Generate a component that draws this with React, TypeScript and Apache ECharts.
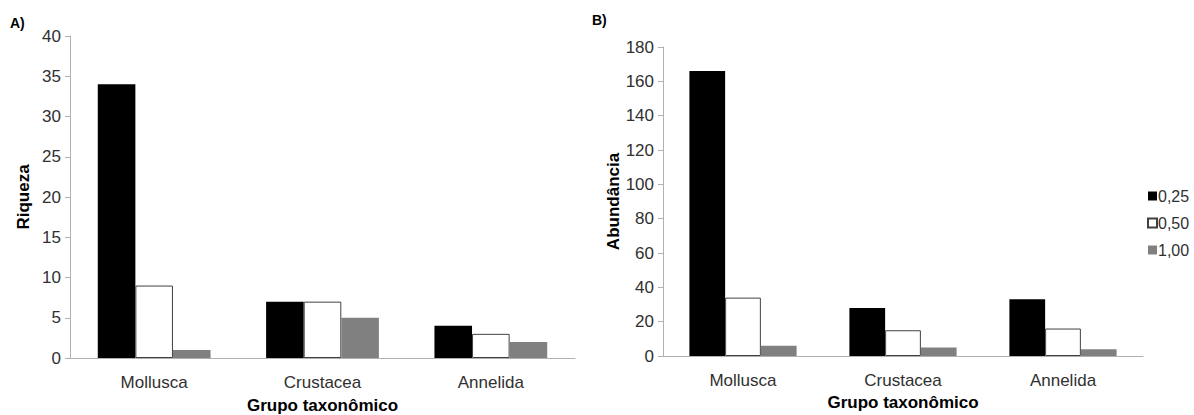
import React, { useEffect, useRef } from "react";
import * as echarts from "echarts";

const categories = ["Mollusca", "Crustacea", "Annelida"];
const seriesNames = ["0,25", "0,50", "1,00"];
const riqueza = [
  [34, 7, 4],
  [9, 7, 3],
  [1, 5, 2],
];
const abundancia = [
  [166, 28, 33],
  [34, 15, 16],
  [6, 5, 4],
];

const FONT = "'Liberation Sans', Arial, sans-serif";
const styles = [
  { color: "#000000" },
  { color: "#ffffff", borderColor: "#404040", borderWidth: 1 },
  { color: "#808080" },
];

export default function App() {
  const ref = useRef<HTMLDivElement>(null);
  useEffect(() => {
    document.body.style.margin = "0";
    const chart = echarts.init(ref.current!, null, { renderer: "svg" });
    const xAxisBase = (gridIndex: number, gap: number) => ({
      type: "category",
      gridIndex,
      data: categories,
      name: "Grupo taxonômico",
      nameLocation: "middle",
      nameGap: gap,
      nameTextStyle: { fontFamily: FONT, fontSize: 17, fontWeight: "bold", color: "#000" },
      axisLine: { lineStyle: { color: "#b0b0b0", width: 1 } },
      axisTick: { show: false },
      axisLabel: { fontFamily: FONT, fontSize: 17, color: "#303030", margin: 16 },
    });
    const yAxisBase = (gridIndex: number, max: number, interval: number, name: string, gap: number) => ({
      type: "value",
      gridIndex,
      min: 0,
      max,
      interval,
      name,
      nameLocation: "middle",
      nameGap: gap,
      nameTextStyle: { fontFamily: FONT, fontSize: 17, fontWeight: "bold", color: "#000" },
      axisLine: { show: true, lineStyle: { color: "#b0b0b0", width: 1 } },
      axisTick: { show: true, length: 5, lineStyle: { color: "#b0b0b0" } },
      splitLine: { show: false },
      axisLabel: { fontFamily: FONT, fontSize: 17, color: "#303030", margin: 9 },
    });
    const mk = (data: number[][], idx: number) =>
      data.map((vals, i) => ({
        type: "bar",
        name: seriesNames[i],
        xAxisIndex: idx,
        yAxisIndex: idx,
        data: vals,
        barGap: "0%",
        barCategoryGap: "33%",
        itemStyle: styles[i],
      }));
    chart.setOption({
      animation: false,
      textStyle: { fontFamily: FONT },
      grid: [
        { left: 70, width: 505, top: 36, bottom: 57, outerBoundsMode: "none", containLabel: false },
        { left: 663, width: 480, top: 47, bottom: 59, outerBoundsMode: "none", containLabel: false },
      ],
      xAxis: [xAxisBase(0, 39), xAxisBase(1, 35)],
      yAxis: [yAxisBase(0, 40, 5, "Riqueza", 38), yAxisBase(1, 180, 20, "Abundância", 39)],
      legend: {
        orient: "vertical",
        left: 1142,
        top: 183,
        itemWidth: 9,
        itemHeight: 9,
        itemGap: 11,
        icon: "rect",
        textStyle: { fontFamily: FONT, fontSize: 16, color: "#303030", padding: [0, 0, 0, -4] },
        data: seriesNames,
      },
      graphic: [
        { type: "text", left: 10, top: 16, style: { text: "A)", font: `bold 14px ${FONT}`, fill: "#000" } },
        { type: "text", left: 592, top: 13, style: { text: "B)", font: `bold 14px ${FONT}`, fill: "#000" } },
      ],
      series: [...mk(riqueza, 0), ...mk(abundancia, 1)],
    });
    return () => chart.dispose();
  }, []);
  return <div ref={ref} style={{ width: 1194, height: 415 }} />;
}
